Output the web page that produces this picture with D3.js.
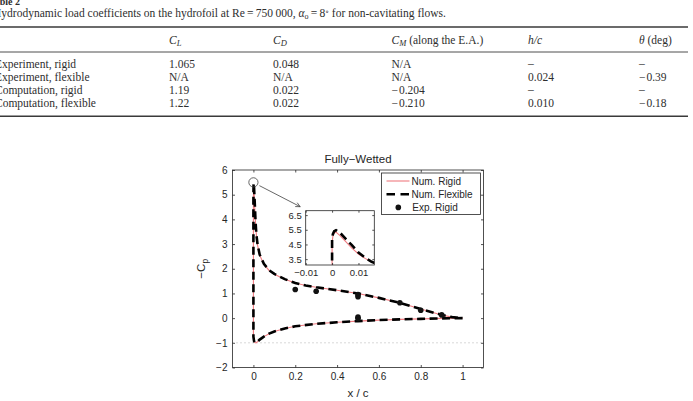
<!DOCTYPE html>
<html>
<head>
<meta charset="utf-8">
<script src="https://cdn.jsdelivr.net/npm/d3@7"></script>
<style>
  body { margin: 0; background: #fff; }
  svg { display: block; }
  .tbl { font-family: "Liberation Serif", "DejaVu Serif", serif; fill: #2e2e2e; font-size: 11.5px; }
  .fig { font-family: "Liberation Sans", Arial, sans-serif; fill: #262626; }
</style>
</head>
<body>
<svg id="page" width="693" height="401"></svg>
<script>
// ---- table data ----
const rowLabels = ["Experiment, rigid", "Experiment, flexible", "Computation, rigid", "Computation, flexible"];
const clValues = ["1.065", "N/A", "1.19", "1.22"];
const cdValues = ["0.048", "N/A", "0.022", "0.022"];
const cmValues = ["N/A", "N/A", "\u2212\u200a0.204", "\u2212\u200a0.210"];
const hcValues = ["\u2013", "0.024", "\u2013", "0.010"];
const thetaValues = ["\u2013", "\u2212\u200a0.39", "\u2013", "\u2212\u200a0.18"];

// ---- chart data (-Cp along the chord) ----
// lower (pressure) side, leading edge -> trailing edge
const lowerX = [0, 0.003, 0.007, 0.012, 0.02, 0.03, 0.05, 0.075, 0.1, 0.15, 0.2, 0.3, 0.4, 0.5, 0.6, 0.7, 0.8, 0.9, 1.0];
const lowerRigid = [-0.75, -0.93, -0.99, -1.0, -0.95, -0.87, -0.75, -0.63, -0.54, -0.42, -0.33, -0.23, -0.17, -0.12, -0.08, -0.05, -0.03, -0.01, 0];
const lowerFlex = [-0.75, -0.93, -0.99, -1.0, -0.95, -0.87, -0.75, -0.63, -0.54, -0.42, -0.33, -0.23, -0.17, -0.12, -0.08, -0.05, -0.03, -0.01, 0];
// upper (suction) side, leading edge -> trailing edge
const upperX = [0, 0, 0.0003, 0.0008, 0.0015, 0.003, 0.005, 0.0075, 0.01, 0.0125, 0.015, 0.02, 0.03, 0.05, 0.075, 0.1, 0.15, 0.2, 0.25, 0.3, 0.4, 0.5, 0.6, 0.7, 0.8, 0.9, 0.95, 1.0];
const upperRigid = [-0.75, 4.6, 5.05, 5.28, 5.34, 5.1, 4.72, 4.25, 3.85, 3.55, 3.3, 2.95, 2.55, 2.18, 1.93, 1.78, 1.57, 1.42, 1.32, 1.25, 1.13, 1.0, 0.82, 0.62, 0.37, 0.13, 0.04, 0];
const upperFlex = [-0.75, 4.8, 5.2, 5.4, 5.47, 5.3, 4.92, 4.45, 3.95, 3.6, 3.32, 2.97, 2.57, 2.2, 1.94, 1.79, 1.58, 1.42, 1.32, 1.25, 1.13, 1.0, 0.82, 0.62, 0.37, 0.13, 0.04, 0];
// experiment, rigid
const expX = [0.2, 0.3, 0.5, 0.5, 0.7, 0.8, 0.9, 0.5, 0.5];
const expCp = [1.16, 1.09, 0.95, 0.87, 0.62, 0.32, 0.13, 0.04, -0.02];

const xTicks = [0, 0.2, 0.4, 0.6, 0.8, 1];
const yTicks = [-2, -1, 0, 1, 2, 3, 4, 5, 6];
const insetXTicks = [-0.01, 0, 0.01];
const insetYTicks = [3.5, 4.5, 5.5, 6.5];
const legendLabels = ["Num. Rigid", "Num. Flexible", "Exp. Rigid"];

const svg = d3.select("#page");
const ink = "#262626";
const red = "#ef7b80";

// ================= table =================
const tbl = svg.append("g").attr("class", "tbl");

tbl.append("text").attr("x", -11).attr("y", 5).attr("font-weight", "bold").attr("font-size", 10).text("Table 2");

const cap = tbl.append("text").attr("x", -7).attr("y", 17);
cap.append("tspan").text("Hydrodynamic load coefficients on the hydrofoil at Re\u2009=\u2009750\u2009000, ");
cap.append("tspan").attr("font-style", "italic").text("\u03b1");
cap.append("tspan").attr("font-size", 8).attr("dy", 2).text("o");
cap.append("tspan").attr("dy", -2).text("\u2009=\u20098");
cap.append("tspan").attr("font-size", 7.5).attr("dy", -3).text("\u2218");
cap.append("tspan").attr("dy", 3).text(" for non-cavitating flows.");

const rules = [{ y: 27, w: 1.6 }, { y: 52, w: 0.9 }, { y: 116.3, w: 1.6 }];
tbl.selectAll("line.rule").data(rules).join("line")
  .attr("x1", 0).attr("x2", 688)
  .attr("y1", d => d.y).attr("y2", d => d.y)
  .attr("stroke", "#3a3a3a").attr("stroke-width", d => d.w);

const colX = [169, 273, 391.5, 528, 639];
const headY = 44;

function subHead(xp, main, sub, rest) {
  const t = tbl.append("text").attr("x", xp).attr("y", headY);
  t.append("tspan").attr("font-style", "italic").text(main);
  if (sub) t.append("tspan").attr("font-style", "italic").attr("font-size", 8.5).attr("dy", 2).text(sub);
  if (rest) t.append("tspan").attr("dy", sub ? -2 : 0).text(rest);
}
subHead(colX[0], "C", "L");
subHead(colX[1], "C", "D");
subHead(colX[2], "C", "M", " (along the E.A.)");
subHead(colX[3], "h/c");
subHead(colX[4], "\u03b8", null, " (deg)");

const rowY = d3.scaleLinear().domain([0, 3]).range([68.3, 107]);
const cols = [clValues, cdValues, cmValues, hcValues, thetaValues];

tbl.selectAll("text.rowlab").data(rowLabels).join("text")
  .attr("class", "rowlab")
  .attr("x", -5).attr("y", (d, i) => rowY(i)).text(d => d);

cols.forEach((vals, c) => {
  tbl.selectAll("text.c" + c).data(vals).join("text")
    .attr("class", "c" + c)
    .attr("x", colX[c])
    .attr("y", (d, i) => rowY(i) - (d === "\u2013" ? 1.5 : 0))
    .text(d => d);
});

// ================= chart =================
const x = d3.scaleLinear().domain([-0.1, 1.1]).range([232.5, 483.5]);
const y = d3.scaleLinear().domain([-2, 6]).range([367.5, 170]);
const fig = svg.append("g").attr("class", "fig");

function styleAxis(g, size) {
  g.select(".domain").remove();
  g.selectAll(".tick line").attr("stroke", ink).attr("stroke-width", 0.8);
  g.selectAll(".tick text").attr("fill", ink).attr("font-size", size)
    .attr("font-family", "'Liberation Sans', Arial, sans-serif");
}

const fmt = d3.format("~g");
fig.append("g").attr("transform", `translate(0,${y(-2)})`)
  .call(d3.axisBottom(x).tickValues(xTicks).tickSize(-2.5).tickPadding(5.5).tickFormat(fmt))
  .call(g => styleAxis(g, 10));
fig.append("g").attr("transform", `translate(${x(-0.1)},0)`)
  .call(d3.axisLeft(y).tickValues(yTicks).tickSize(-2.5).tickPadding(5).tickFormat(fmt))
  .call(g => styleAxis(g, 10));
fig.append("g").attr("transform", `translate(0,${y(6)})`)
  .call(d3.axisTop(x).tickValues(xTicks).tickSize(-2.5).tickFormat(""))
  .call(g => styleAxis(g, 10));
fig.append("g").attr("transform", `translate(${x(1.1)},0)`)
  .call(d3.axisRight(y).tickValues(yTicks).tickSize(-2.5).tickFormat(""))
  .call(g => styleAxis(g, 10));

// dotted reference line at -Cp = -1
fig.append("line")
  .attr("x1", x(-0.1)).attr("x2", x(1.1)).attr("y1", y(-1)).attr("y2", y(-1))
  .attr("stroke", "#b0b0b0").attr("stroke-width", 1).attr("stroke-dasharray", "1,3");

// full contour path: TE lower -> LE -> TE upper
function contour(lowerY, upperY) {
  const lo = lowerX.map((v, i) => [v, lowerY[i]]).reverse();
  const up = upperX.map((v, i) => [v, upperY[i]]);
  return lo.concat(up);
}
const rigidPts = contour(lowerRigid, upperRigid);
const flexPts = contour(lowerFlex, upperFlex);

const line = d3.line().x(d => x(d[0])).y(d => y(d[1]));
fig.append("path").attr("d", line(rigidPts)).attr("fill", "none").attr("stroke", red).attr("stroke-width", 1.1);
fig.append("path").attr("d", line(flexPts)).attr("fill", "none").attr("stroke", "#000")
  .attr("stroke-width", 2.6).attr("stroke-dasharray", "8,4.5");

fig.selectAll("circle.exp").data(expX).join("circle")
  .attr("class", "exp")
  .attr("cx", d => x(d)).attr("cy", (d, i) => y(expCp[i])).attr("r", 2.8).attr("fill", "#111");

// frame
fig.append("rect")
  .attr("x", x(-0.1)).attr("y", y(6)).attr("width", x(1.1) - x(-0.1)).attr("height", y(-2) - y(6))
  .attr("fill", "none").attr("stroke", ink).attr("stroke-width", 0.8);

// title and axis labels
fig.append("text").attr("x", (x(-0.1) + x(1.1)) / 2).attr("y", 163).attr("text-anchor", "middle")
  .attr("font-size", 11.5).text("Fully\u2212Wetted");
fig.append("text").attr("x", (x(-0.1) + x(1.1)) / 2).attr("y", 397).attr("text-anchor", "middle")
  .attr("font-size", 11.5).text("x / c");
const yl = fig.append("text").attr("transform", `translate(205,${(y(-2) + y(6)) / 2}) rotate(-90)`)
  .attr("text-anchor", "middle").attr("font-size", 11.5);
yl.append("tspan").text("\u2212C");
yl.append("tspan").attr("font-size", 8.5).attr("dy", 2.5).text("p");

// circle on the suction peak and arrow to the inset
const peak = [0, 5.5];
fig.append("circle").attr("cx", x(peak[0])).attr("cy", y(peak[1])).attr("r", 4.6)
  .attr("fill", "none").attr("stroke", "#404040").attr("stroke-width", 0.8);

// ---- inset ----
const xi = d3.scaleLinear().domain([-0.01, 0.016]).range([305.7, 374.3]);
const yi = d3.scaleLinear().domain([3.1, 6.8]).range([265, 210.7]);

const a0 = [x(peak[0]) + 6, y(peak[1]) + 3.3];
const a1 = [xi(-0.01) - 5.5, yi(6.8) - 4];
fig.append("line").attr("x1", a0[0]).attr("y1", a0[1]).attr("x2", a1[0]).attr("y2", a1[1])
  .attr("stroke", "#404040").attr("stroke-width", 0.8);
const ang = Math.atan2(a1[1] - a0[1], a1[0] - a0[0]);
const head = [ang + Math.PI - 0.45, ang + Math.PI + 0.45].map(t => [a1[0] + 5 * Math.cos(t), a1[1] + 5 * Math.sin(t)]);
fig.append("path").attr("d", `M${head[0]}L${a1}L${head[1]}`).attr("fill", "none")
  .attr("stroke", "#404040").attr("stroke-width", 0.8);

const inset = fig.append("g");
inset.append("rect").attr("x", xi(-0.01)).attr("y", yi(6.8))
  .attr("width", xi(0.016) - xi(-0.01)).attr("height", yi(3.1) - yi(6.8)).attr("fill", "#fff");
svg.append("defs").append("clipPath").attr("id", "insetClip").append("rect")
  .attr("x", xi(-0.01)).attr("y", yi(6.8))
  .attr("width", xi(0.016) - xi(-0.01)).attr("height", yi(3.1) - yi(6.8));

const lineI = d3.line().x(d => xi(d[0])).y(d => yi(d[1]));
const ic = inset.append("g").attr("clip-path", "url(#insetClip)");
ic.append("path").attr("d", lineI(rigidPts)).attr("fill", "none").attr("stroke", red).attr("stroke-width", 1.1);
ic.append("path").attr("d", lineI(flexPts)).attr("fill", "none").attr("stroke", "#000")
  .attr("stroke-width", 2.6).attr("stroke-dasharray", "8,4.5");

inset.append("g").attr("transform", `translate(0,${yi(3.1)})`)
  .call(d3.axisBottom(xi).tickValues(insetXTicks).tickSize(-2).tickPadding(4.5).tickFormat(fmt))
  .call(g => styleAxis(g, 9.5));
inset.append("g").attr("transform", `translate(${xi(-0.01)},0)`)
  .call(d3.axisLeft(yi).tickValues(insetYTicks).tickSize(-2).tickPadding(4).tickFormat(fmt))
  .call(g => styleAxis(g, 9.5));
inset.append("g").attr("transform", `translate(0,${yi(6.8)})`)
  .call(d3.axisTop(xi).tickValues(insetXTicks).tickSize(-2).tickFormat(""))
  .call(g => styleAxis(g, 9.5));
inset.append("g").attr("transform", `translate(${xi(0.016)},0)`)
  .call(d3.axisRight(yi).tickValues(insetYTicks).tickSize(-2).tickFormat(""))
  .call(g => styleAxis(g, 9.5));
inset.append("rect").attr("x", xi(-0.01)).attr("y", yi(6.8))
  .attr("width", xi(0.016) - xi(-0.01)).attr("height", yi(3.1) - yi(6.8))
  .attr("fill", "none").attr("stroke", ink).attr("stroke-width", 0.8);

// ---- legend ----
const lg = fig.append("g").attr("transform", "translate(381.5,173)");
lg.append("rect").attr("width", 99).attr("height", 41.5).attr("fill", "#fff")
  .attr("stroke", ink).attr("stroke-width", 0.8);
const rowH = 13.2;
legendLabels.forEach((lab, i) => {
  const cy = 8 + i * rowH;
  if (i === 0) {
    lg.append("line").attr("x1", 5).attr("x2", 28).attr("y1", cy).attr("y2", cy)
      .attr("stroke", red).attr("stroke-width", 1.1);
  } else if (i === 1) {
    lg.append("line").attr("x1", 5).attr("x2", 28).attr("y1", cy).attr("y2", cy)
      .attr("stroke", "#000").attr("stroke-width", 2.6).attr("stroke-dasharray", "8.5,5.5");
  } else {
    lg.append("circle").attr("cx", 16.8).attr("cy", cy).attr("r", 2.8).attr("fill", "#111");
  }
  lg.append("text").attr("x", i === 2 ? 30.8 : 30).attr("y", cy + 3.6).attr("font-size", 10).text(lab);
});
</script>
</body>
</html>
